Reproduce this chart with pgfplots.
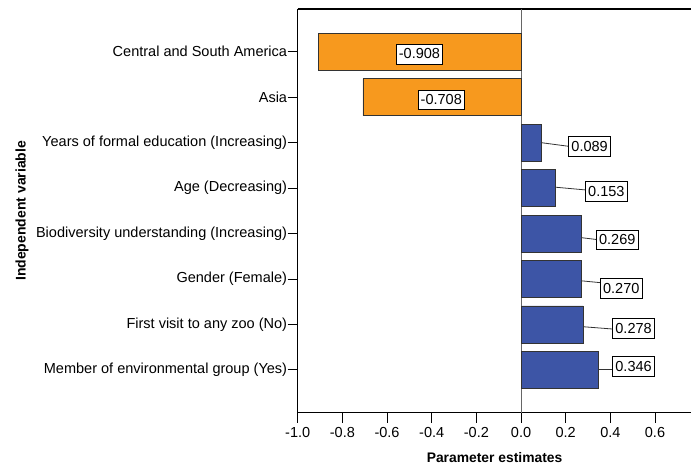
\documentclass[border=0pt]{standalone}
\usepackage{fontspec}
\setmainfont{Liberation Sans}
\usepackage{pgfplots}
\usepackage{pgfplotstable}
\pgfplotsset{compat=1.18}

\definecolor{negbar}{RGB}{247,153,30}
\definecolor{posbar}{RGB}{61,85,166}

% y = row position (7 = top), x = estimate
\pgfplotstableread{
y  x
7  -0.908
6  -0.708
}\negdata

\pgfplotstableread{
y  x
5  0.089
4  0.153
3  0.269
2  0.270
1  0.278
0  0.346
}\posdata

% leader lines: from bar end (x,ys) to label box (lx,ye); box centre at ly
\pgfplotstableread{
x      ys    lx     ye    ly    lab
0.089  5.00  0.212  4.92  4.91  0.089
0.153  4.02  0.287  3.96  3.93  0.153
0.269  2.91  0.336  2.87  2.86  0.269
0.270  1.96  0.354  1.92  1.80  0.270
0.278  0.95  0.409  0.90  0.91  0.278
0.346  0.02  0.409  0.02  0.07  0.346
}\leaders

\pgfplotstableread{
lx      ly    lab
-0.455  6.95  -0.908
-0.357  5.94  -0.708
}\neglabels

\begin{document}
\begin{tikzpicture}
\begin{axis}[
  name=ax,
  scale only axis,
  width=295.5pt, height=303pt,
  xmin=-1.0, xmax=0.763,
  ymin=-0.94, ymax=7.94,
  axis x line=box,
  axis y line*=left,
  tick pos=lower,
  tick align=outside,
  major tick length=7.5pt,
  xtick={-1.0,-0.8,...,0.61},
  ytick={0,...,7},
  yticklabels={
    Member of environmental group (Yes),
    First visit to any zoo (No),
    Gender (Female),
    Biodiversity understanding (Increasing),
    Age (Decreasing),
    Years of formal education (Increasing),
    Asia,
    Central and South America},
  xticklabel style={/pgf/number format/.cd, fixed, fixed zerofill, precision=1},
  yticklabel style={inner xsep=0.3pt},
  /pgf/number format/assume math mode=true,
  ticklabel style={font=\fontsize{10.9}{13}\selectfont},
  xlabel={\textbf{Parameter estimates}},
  ylabel={\textbf{Independent variable}},
  every axis x label/.style={at={(axis description cs:0.5,-0.111)}, anchor=center,
    font=\fontsize{10.4}{12}\selectfont},
  every axis y label/.style={at={(axis description cs:-0.7005,0.5)}, rotate=90,
    anchor=center, font=\fontsize{10.5}{12}\selectfont},
  axis line style={line width=0.9pt},
  tick style={line width=0.7pt, black},
  extra x ticks={0},
  extra x tick labels={},
  extra x tick style={grid=major, major grid style={gray!80!black, line width=0.6pt},
    major tick length=0pt},
]

\addplot[xbar, bar width=27.75pt, bar shift=0pt, fill=negbar, draw=black!80, line width=0.6pt]
  table[x=x, y=y] {\negdata};
\addplot[xbar, bar width=27.75pt, bar shift=0pt, fill=posbar, draw=black!80, line width=0.6pt]
  table[x=x, y=y] {\posdata};

% leader lines
\addplot[quiver={u=\thisrow{lx}-\thisrow{x}, v=\thisrow{ye}-\thisrow{ys}},
  draw=black!80, line width=0.6pt, mark=none]
  table[x=x, y=ys] {\leaders};

% labels of the positive bars
\addplot[draw=none, mark=none, nodes near coords, point meta=explicit symbolic,
  every node near coord/.append style={anchor=west, fill=white, draw=black,
    line width=0.6pt, inner xsep=2pt, inner ysep=3.6pt,
    font=\fontsize{10.9}{13}\selectfont}]
  table[x=lx, y=ly, meta=lab] {\leaders};

% labels of the negative bars
\addplot[draw=none, mark=none, nodes near coords, point meta=explicit symbolic,
  every node near coord/.append style={anchor=center, fill=white, draw=black,
    line width=0.6pt, inner xsep=2pt, inner ysep=3.6pt,
    font=\fontsize{10.9}{13}\selectfont}]
  table[x=lx, y=ly, meta=lab] {\neglabels};

\end{axis}
\path ([shift={(-223.5pt,-39.75pt)}]ax.south west) rectangle ([shift={(0pt,6.75pt)}]ax.north east);
\end{tikzpicture}
\end{document}
